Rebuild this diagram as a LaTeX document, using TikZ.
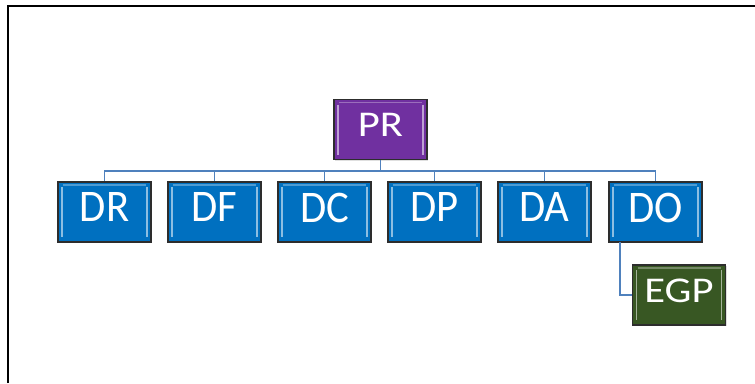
\documentclass[tikz,border=0pt]{standalone}
\usepackage{fontspec}
\setmainfont{Carlito}
\usepackage{tikz}
\usetikzlibrary{positioning, calc, shadows}
\definecolor{ChiefPurple}{RGB}{112, 48, 160}
\definecolor{DeptBlue}{RGB}{0, 112, 192}
\definecolor{UnitGreen}{RGB}{56, 87, 35}
\definecolor{LinkBlue}{RGB}{79, 129, 189}
\definecolor{EdgeGray}{RGB}{45, 45, 45}

\newcommand{\talltext}[1]{\scalebox{1}[1.06]{#1}}
\newcommand{\widetext}[1]{\scalebox{1}[0.85]{#1}}

\begin{document}
\begin{tikzpicture}[
    x=0.75pt,
    y=-0.75pt,
    orgbox/.style={
        rectangle,
        draw=EdgeGray,
        line width=1pt,
        minimum width=69.75pt,
        minimum height=45pt,
        text=white,
        text depth=7pt,
        align=center,
        font=\fontsize{32}{32}\selectfont,
        drop shadow={opacity=0.25, shadow xshift=1pt, shadow yshift=-1pt},
        path picture={
            \draw[white, opacity=0.55, line width=1.2pt]
                ($(path picture bounding box.north west)+(4,5)$)
                --
                ($(path picture bounding box.south west)+(4,-5)$);
            \draw[white, opacity=0.55, line width=1.2pt]
                ($(path picture bounding box.north east)+(-4,5)$)
                --
                ($(path picture bounding box.south east)+(-4,-5)$);
            \draw[white, opacity=0.3, line width=0.8pt]
                ($(path picture bounding box.north west)+(5,3)$)
                --
                ($(path picture bounding box.north east)+(-5,3)$);
        }
    },
    chiefbox/.style={
        orgbox,
        fill=ChiefPurple
    },
    deptbox/.style={
        orgbox,
        fill=DeptBlue
    },
    unitbox/.style={
        orgbox,
        fill=UnitGreen
    },
    orgline/.style={
        draw=LinkBlue,
        line width=0.8pt
    }
]
\useasboundingbox (0,0) rectangle (755,383);
% -------------------------------------------------------------
% FRAME
% -------------------------------------------------------------
\draw[line width=1.6pt] (8,383) -- (8,6) -- (755,6);
% -------------------------------------------------------------
% JUNCTIONS
% -------------------------------------------------------------
\coordinate (busNode) at (380.5,171);
\coordinate (doDrop) at (620,242);
% -------------------------------------------------------------
% PR
% -------------------------------------------------------------
\node[chiefbox] (prNode) at (380.5,129.5) {\widetext{PR}};
% -------------------------------------------------------------
% DEPARTMENTS
% -------------------------------------------------------------
\node[deptbox] (drNode) at (104.5,212) {\talltext{DR}};
\node[deptbox] (dfNode) at (214.5,212) {\talltext{DF}};
\node[deptbox] (dcNode) at (324.5,212) {\talltext{DC}};
\node[deptbox] (dpNode) at (434.5,212) {\talltext{DP}};
\node[deptbox] (daNode) at (544.5,212) {\talltext{DA}};
\node[deptbox] (doNode) at (655.5,212) {\talltext{DO}};
% -------------------------------------------------------------
% EGP
% -------------------------------------------------------------
\node[unitbox] (egpNode) at (679,295) {\widetext{EGP}};
% -------------------------------------------------------------
% LINKS
% -------------------------------------------------------------
\draw[orgline] (prNode.south) -- (busNode);
\foreach \dept in {drNode, dfNode, dcNode, dpNode, daNode, doNode}
    \draw[orgline] (busNode) -| (\dept.north);
\draw[orgline] (doDrop) |- (egpNode.west);
\end{tikzpicture}
\end{document}
